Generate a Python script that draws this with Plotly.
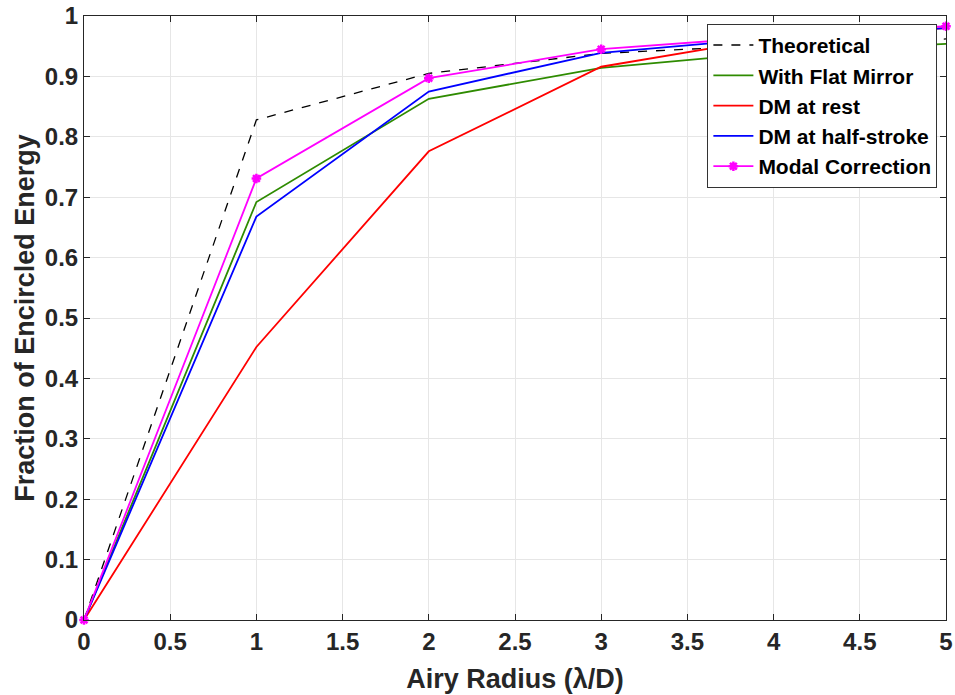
import plotly.graph_objects as go

x_vals = [0, 1, 2, 3, 4, 5]
theoretical = [0, 0.828, 0.905, 0.938, 0.952, 0.962]
flat_mirror = [0, 0.692, 0.863, 0.914, 0.940, 0.954]
dm_rest = [0, 0.452, 0.776, 0.916, 0.964, 0.980]
dm_half = [0, 0.668, 0.875, 0.939, 0.964, 0.980]
modal = [0, 0.731, 0.897, 0.945, 0.966, 0.983]

x_ticks = [0, 0.5, 1, 1.5, 2, 2.5, 3, 3.5, 4, 4.5, 5]
x_tick_labels = ["0", "0.5", "1", "1.5", "2", "2.5", "3", "3.5", "4", "4.5", "5"]
y_ticks = [0, 0.1, 0.2, 0.3, 0.4, 0.5, 0.6, 0.7, 0.8, 0.9, 1]
y_tick_labels = ["0", "0.1", "0.2", "0.3", "0.4", "0.5", "0.6", "0.7", "0.8", "0.9", "1"]

FONT = "Liberation Sans, Arial, sans-serif"

fig = go.Figure()
fig.add_trace(go.Scatter(x=x_vals, y=theoretical, mode="lines", name="Theoretical",
                         line=dict(color="black", width=1.3, dash="dash")))
fig.add_trace(go.Scatter(x=x_vals, y=flat_mirror, mode="lines", name="With Flat Mirror",
                         line=dict(color="#2e8b00", width=1.8)))
fig.add_trace(go.Scatter(x=x_vals, y=dm_rest, mode="lines", name="DM at rest",
                         line=dict(color="#ff0000", width=1.8)))
fig.add_trace(go.Scatter(x=x_vals, y=dm_half, mode="lines", name="DM at half-stroke",
                         line=dict(color="#0000ff", width=1.8)))
fig.add_trace(go.Scatter(x=x_vals, y=modal, mode="lines+markers", name="Modal Correction",
                         line=dict(color="#ff00ff", width=1.8), cliponaxis=False,
                         marker=dict(color="#ff00ff", size=8, symbol="asterisk-open",
                                     line=dict(color="#ff00ff", width=2.5))))

fig.update_layout(
    width=955, height=695,
    margin=dict(l=84, r=9, t=16, b=75, autoexpand=False),
    paper_bgcolor="white", plot_bgcolor="white",
    font=dict(family=FONT, color="#262626"),
    showlegend=True,
    legend=dict(x=0.99, y=0.987, xanchor="right", yanchor="top",
                bgcolor="white", bordercolor="#333333", borderwidth=1,
                font=dict(family=FONT, size=21, color="black", weight="bold"),
                itemwidth=40, tracegroupgap=0),
)
fig.update_xaxes(
    range=[0, 5], tickmode="array", tickvals=x_ticks, ticktext=x_tick_labels,
    showgrid=True, gridcolor="#e6e6e6", gridwidth=1, automargin=False,
    showline=True, linecolor="#262626", linewidth=1, mirror="ticks",
    ticks="inside", ticklen=6, tickcolor="#262626", ticklabeloverflow="allow",
    tickfont=dict(family=FONT, size=24, color="#262626", weight="bold"),
    title=dict(text="Airy Radius (λ/D)", standoff=15,
               font=dict(family=FONT, size=27, color="#262626", weight="bold")),
    zeroline=False,
)
fig.update_yaxes(
    range=[0, 1], tickmode="array", tickvals=y_ticks, ticktext=y_tick_labels,
    showgrid=True, gridcolor="#e6e6e6", gridwidth=1, automargin=False,
    showline=True, linecolor="#262626", linewidth=1, mirror="ticks",
    ticks="inside", ticklen=6, tickcolor="#262626", ticklabeloverflow="allow",
    tickfont=dict(family=FONT, size=24, color="#262626", weight="bold"),
    title=dict(text="Fraction of Encircled Energy", standoff=2,
               font=dict(family=FONT, size=27, color="#262626", weight="bold")),
    zeroline=False,
)
# remove the page's default 8px body margin so the figure fills the window
fig.write_html("out.html", config={"displayModeBar": False},
               post_script="document.body.style.margin='0';")
